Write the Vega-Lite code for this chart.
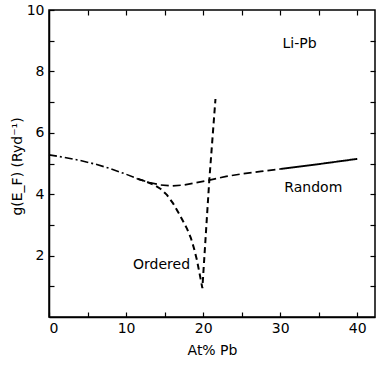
{
  "$schema": "https://vega.github.io/schema/vega-lite/v6.json",
  "width": 326,
  "height": 307,
  "autosize": {"type": "none"},
  "padding": {"left": 49, "top": 10, "right": 2, "bottom": 49},
  "background": "white",
  "config": {
    "view": {"stroke": "black", "strokeWidth": 1.5},
    "font": "DejaVu Sans",
    "axis": {"domainColor": "black", "tickColor": "black", "labelColor": "black", "titleColor": "black", "labelFont": "DejaVu Sans", "titleFont": "DejaVu Sans", "labelFontSize": 14, "titleFontSize": 14, "titleFontWeight": "normal", "grid": false, "domainWidth": 1.5, "tickWidth": 1.2}
  },
  "datasets": {
    "curves": [
      {"series": "common", "x": 0, "y": 5.28},
      {"series": "common", "x": 2, "y": 5.2},
      {"series": "common", "x": 4, "y": 5.1},
      {"series": "common", "x": 6, "y": 4.98},
      {"series": "common", "x": 8, "y": 4.83},
      {"series": "common", "x": 10, "y": 4.65},
      {"series": "common", "x": 11.5, "y": 4.5},
      {"series": "random", "x": 11.5, "y": 4.5},
      {"series": "random", "x": 13, "y": 4.38},
      {"series": "random", "x": 14.5, "y": 4.3},
      {"series": "random", "x": 16, "y": 4.27},
      {"series": "random", "x": 17.5, "y": 4.3},
      {"series": "random", "x": 19, "y": 4.37},
      {"series": "random", "x": 20.8, "y": 4.46},
      {"series": "random", "x": 23, "y": 4.58},
      {"series": "random", "x": 25, "y": 4.66},
      {"series": "random", "x": 27.5, "y": 4.74},
      {"series": "random", "x": 30, "y": 4.82},
      {"series": "random solid", "x": 30, "y": 4.82},
      {"series": "random solid", "x": 35, "y": 4.98},
      {"series": "random solid", "x": 40, "y": 5.15},
      {"series": "ordered", "x": 11.5, "y": 4.5},
      {"series": "ordered", "x": 12.5, "y": 4.42},
      {"series": "ordered", "x": 13.5, "y": 4.32},
      {"series": "ordered", "x": 14.5, "y": 4.17},
      {"series": "ordered", "x": 15.3, "y": 3.98},
      {"series": "ordered", "x": 16.1, "y": 3.7},
      {"series": "ordered", "x": 16.8, "y": 3.4},
      {"series": "ordered", "x": 17.4, "y": 3.12},
      {"series": "ordered", "x": 17.9, "y": 2.88},
      {"series": "ordered", "x": 18.4, "y": 2.58},
      {"series": "ordered", "x": 18.8, "y": 2.25},
      {"series": "ordered", "x": 19.2, "y": 1.85},
      {"series": "ordered", "x": 19.55, "y": 1.4},
      {"series": "ordered", "x": 19.9, "y": 0.94},
      {"series": "ordered", "x": 20.8, "y": 4.46},
      {"series": "ordered", "x": 21.6, "y": 7.1}
    ],
    "labels": [
      {"x": 32.5, "y": 8.9, "label": "Li-Pb"},
      {"x": 34.3, "y": 4.19, "label": "Random"},
      {"x": 14.6, "y": 1.69, "label": "Ordered"}
    ]
  },
  "resolve": {"axis": {"x": "independent", "y": "independent"}},
  "layer": [
    {
      "data": {"name": "curves"},
      "mark": {"type": "line", "color": "black"},
      "encoding": {
        "x": {"field": "x", "type": "quantitative", "scale": {"domain": [0, 42.3], "nice": false, "zero": false},
          "axis": {"title": "At% Pb", "values": [0, 5, 10, 15, 20, 25, 30, 35, 40], "labelExpr": "datum.value % 10 == 0 ? datum.label : ''", "tickSize": -5, "labelPadding": 9, "titlePadding": 8}},
        "y": {"field": "y", "type": "quantitative", "scale": {"domain": [0, 10], "nice": false},
          "axis": {"title": "g(E_F)  (Ryd⁻¹)", "values": [1, 2, 3, 4, 5, 6, 7, 8, 9, 10], "labelExpr": "datum.value % 2 == 0 ? datum.label : ''", "tickSize": -5, "labelPadding": 10, "titleX": -32, "titleY": 156, "titleAlign": "center", "titleBaseline": "middle", "titleAngle": -90}},
        "detail": {"field": "series"},
        "strokeDash": {"field": "series", "type": "nominal", "legend": null,
          "scale": {"domain": ["common", "random", "random solid", "ordered"], "range": [[8, 3, 2, 3], [8, 4], [1, 0], [6, 4]]}},
        "strokeWidth": {"field": "series", "type": "nominal", "legend": null,
          "scale": {"domain": ["common", "random", "random solid", "ordered"], "range": [1.6, 2, 2.2, 1.3]}}
      }
    },
    {
      "data": {"name": "labels"},
      "mark": {"type": "text", "fontSize": 14, "color": "black", "font": "DejaVu Sans"},
      "encoding": {
        "x": {"field": "x", "type": "quantitative", "scale": {"domain": [0, 42.3], "nice": false, "zero": false},
          "axis": {"orient": "top", "title": null, "values": [5, 10, 15, 20, 25, 30, 35, 40], "labels": false, "tickSize": -5, "domain": false}},
        "y": {"field": "y", "type": "quantitative", "scale": {"domain": [0, 10], "nice": false},
          "axis": {"orient": "right", "title": null, "values": [1, 2, 3, 4, 5, 6, 7, 8, 9], "labels": false, "tickSize": -5, "domain": false}},
        "text": {"field": "label"}
      }
    }
  ]
}
